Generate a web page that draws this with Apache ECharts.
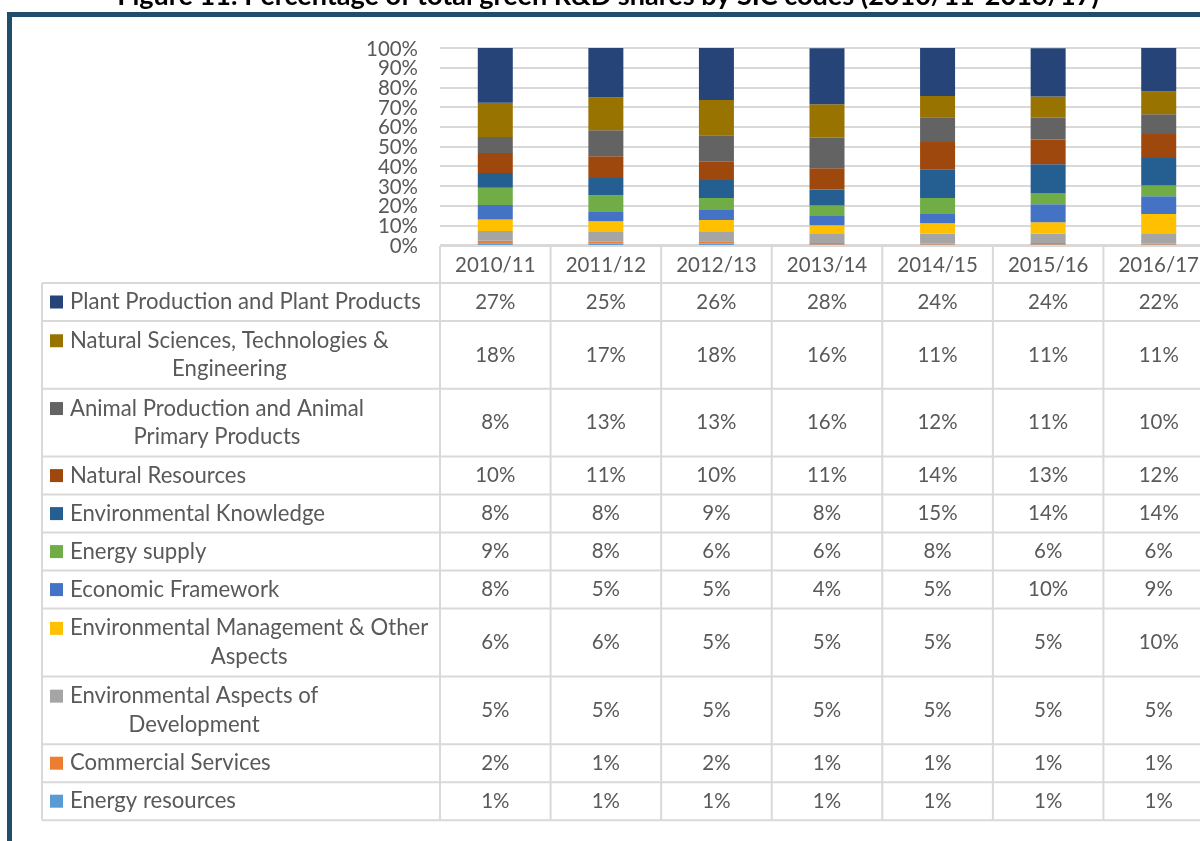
<!DOCTYPE html>
<html>
<head>
<meta charset="utf-8">
<script src="https://cdn.jsdelivr.net/npm/echarts@6/dist/echarts.min.js"></script>
<style>
  html, body { margin: 0; padding: 0; background: #fff; }
  #chart { width: 1200px; height: 841px; }
</style>
</head>
<body>
<div id="chart"></div>
<script>
const title = 'Figure 11: Percentage of total green R&D shares by SIC codes (2010/11-2016/17)';
const years = ['2010/11', '2011/12', '2012/13', '2013/14', '2014/15', '2015/16', '2016/17'];
const yTicks = [0, 10, 20, 30, 40, 50, 60, 70, 80, 90, 100];
const groupNames = [
  'Plant Production and Plant Products',
  'Natural Sciences, Technologies &\nEngineering',
  'Animal Production and Animal\nPrimary Products',
  'Natural Resources',
  'Environmental Knowledge',
  'Energy supply',
  'Economic Framework',
  'Environmental Management & Other\nAspects',
  'Environmental Aspects of\nDevelopment',
  'Commercial Services',
  'Energy resources'
];

// shares printed in the data table (%)
const plantPct = [27, 25, 26, 28, 24, 24, 22];
const natSciPct = [18, 17, 18, 16, 11, 11, 11];
const animalPct = [8, 13, 13, 16, 12, 11, 10];
const natResPct = [10, 11, 10, 11, 14, 13, 12];
const envKnowPct = [8, 8, 9, 8, 15, 14, 14];
const energySupplyPct = [9, 8, 6, 6, 8, 6, 6];
const econPct = [8, 5, 5, 4, 5, 10, 9];
const envMgmtPct = [6, 6, 5, 5, 5, 5, 10];
const envDevPct = [5, 5, 5, 5, 5, 5, 5];
const commercialPct = [2, 1, 2, 1, 1, 1, 1];
const energyResPct = [1, 1, 1, 1, 1, 1, 1];

// segment heights as drawn in the 100% stacked bars (%)
const plantBar = [27.8, 25.2, 26.5, 28.5, 24.5, 24.5, 22.1];
const natSciBar = [17.4, 16.6, 17.9, 16.9, 10.8, 10.8, 11.5];
const animalBar = [8.1, 13.2, 13.2, 15.5, 12.5, 11.1, 10.1];
const natResBar = [10.2, 11.1, 9.5, 10.8, 13.9, 12.5, 12.2];
const envKnowBar = [7.4, 8.8, 9.1, 8.1, 14.5, 14.9, 13.9];
const energySupplyBar = [8.8, 8.1, 6.1, 5.4, 7.8, 5.4, 5.4];
const econBar = [7.4, 5.1, 5.1, 4.7, 5.1, 9.1, 9.1];
const envMgmtBar = [5.8, 5.4, 5.7, 4.4, 5.1, 5.7, 10.1];
const envDevBar = [4.9, 4.9, 5.1, 4.6, 5.2, 4.9, 4.9];
const commercialBar = [1.3, 1.0, 1.2, 0.7, 0.5, 0.7, 0.5];
const energyResBar = [0.9, 0.7, 0.7, 0.3, 0.2, 0.3, 0.2];

const colors = ['#264478', '#997300', '#636363', '#9E480E', '#255E91', '#70AD47',
  '#4472C4', '#FFC000', '#A5A5A5', '#ED7D31', '#5B9BD5'];

const tableRows = [plantPct, natSciPct, animalPct, natResPct, envKnowPct, energySupplyPct,
  econPct, envMgmtPct, envDevPct, commercialPct, energyResPct];
const barRows = [plantBar, natSciBar, animalBar, natResBar, envKnowBar, energySupplyBar,
  econBar, envMgmtBar, envDevBar, commercialBar, energyResBar];

const FONT = 'Lato, "Open Sans", sans-serif';
const TXT = '#595959';
const LINE = '#D9D9D9';

const ctx = document.createElement('canvas').getContext('2d');
function textW(str, font) {
  ctx.font = font;
  return ctx.measureText(str).width;
}
// size the fonts so they take the same room as the original Calibri text
const fs = 23 * 351 / textW('Plant Production and Plant Products', '23px ' + FONT);
const numFs = 23 * 52 / textW('100%', '23px ' + FONT);
const titleFs = 22 * 982 / textW(title, 'bold 22px ' + FONT);

const myChart = echarts.init(document.getElementById('chart'));

// bottom of the stack is the last table row
const series = [];
for (let i = groupNames.length - 1; i >= 0; i--) {
  series.push({
    name: groupNames[i].replace('\n', ' '),
    type: 'bar',
    stack: 'total',
    barWidth: 35,
    data: barRows[i],
    itemStyle: { color: colors[i] }
  });
}

myChart.setOption({
  animation: false,
  grid: { left: 440, top: 48, width: 774, height: 197, containLabel: false, outerBoundsMode: 'none' },
  xAxis: {
    type: 'category',
    data: years,
    axisLine: { show: false },
    axisTick: { show: false },
    axisLabel: { show: false }
  },
  yAxis: {
    type: 'value',
    min: 0,
    max: 100,
    interval: 10,
    axisLine: { show: false },
    axisTick: { show: false },
    // labels are tightly packed (Excel style), drawn below so none get dropped
    axisLabel: { show: false },
    splitLine: { lineStyle: { color: LINE, width: 2 } }
  },
  series: series
});

// data table + frame drawn under the plot
const centers = years.map(y => myChart.convertToPixel({ xAxisIndex: 0 }, y));
const colW = centers[1] - centers[0];
const edges = centers.map(c => c - colW / 2);
const rightEnd = centers[centers.length - 1] + colW / 2;
const headerTop = 246;
const tableTop = 283;
const labelLeft = 42;
const lineH = 28.3;

const g = [];
function hline(x1, x2, y) {
  g.push({ type: 'line', shape: { x1: x1, y1: y, x2: x2, y2: y }, style: { stroke: LINE, lineWidth: 2 }, silent: true });
}
function vline(x, y1, y2) {
  g.push({ type: 'line', shape: { x1: x, y1: y1, x2: x, y2: y2 }, style: { stroke: LINE, lineWidth: 2 }, silent: true });
}
function text(str, x, y, size, extra) {
  g.push({
    type: 'text', silent: true,
    style: Object.assign({ text: str, x: x, y: y, fill: TXT, font: size + 'px ' + FONT, textAlign: 'center', textVerticalAlign: 'middle' }, extra || {})
  });
}

// y-axis tick labels at the axis's own positions
yTicks.forEach(v => {
  const y = myChart.convertToPixel({ yAxisIndex: 0 }, v);
  text(v + '%', 418, y + 1, numFs, { textAlign: 'right' });
});

// header row
hline(edges[0], rightEnd, headerTop);
years.forEach((y, i) => text(y, centers[i], (headerTop + tableTop) / 2 + 1, numFs));

let rowY = tableTop;
const rowTops = [];
groupNames.forEach(name => {
  rowTops.push(rowY);
  rowY += name.split('\n').length === 1 ? 38 : 67.8;
});
const tableBottom = rowY;

rowTops.concat([tableBottom]).forEach(y => hline(labelLeft, rightEnd, y));
vline(labelLeft, tableTop, tableBottom);
edges.forEach(x => vline(x, headerTop, tableBottom));

groupNames.forEach((name, r) => {
  const lines = name.split('\n');
  const h = lines.length === 1 ? 38 : 67.8;
  const mid = rowTops[r] + h / 2;
  const firstY = mid - (lines.length - 1) * lineH / 2;
  g.push({ type: 'rect', silent: true, shape: { x: 50, y: firstY - 6.5, width: 13, height: 13 }, style: { fill: colors[r] } });
  const maxW = Math.max.apply(null, lines.map(l => textW(l, fs + 'px ' + FONT)));
  text(name, 70 + maxW / 2, mid, fs, { lineHeight: lineH });
  tableRows[r].forEach((v, i) => text(v + '%', centers[i], mid, numFs));
});

// title (cut off by the top of the page) and the dark frame
g.push({
  type: 'text', silent: true,
  style: { text: title, x: 608, y: -4, fill: '#000', font: 'bold ' + titleFs + 'px ' + FONT, textAlign: 'center', textVerticalAlign: 'middle' }
});
g.push({
  type: 'rect', silent: true,
  shape: { x: 9.5, y: 14.5, width: 1400, height: 1000 },
  style: { fill: 'none', stroke: '#1F4E6A', lineWidth: 5 }
});

myChart.setOption({ graphic: g });
</script>
</body>
</html>
